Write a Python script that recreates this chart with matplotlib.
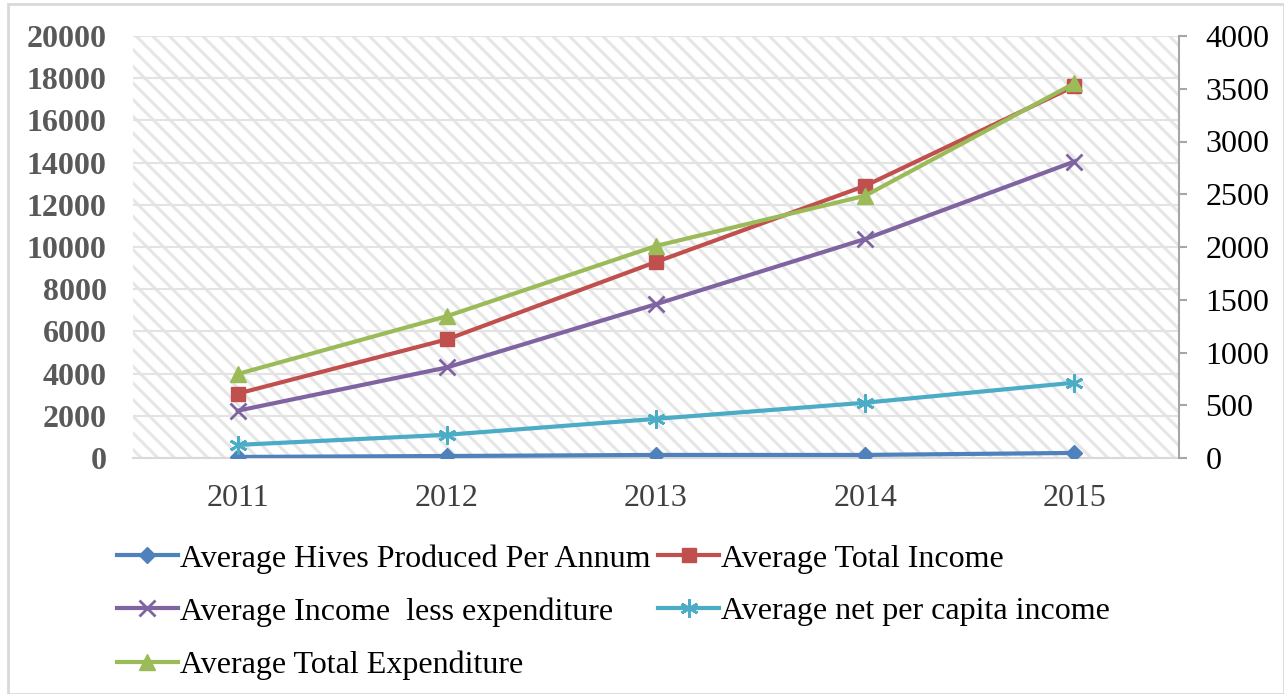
import matplotlib
matplotlib.use("Agg")
import matplotlib.pyplot as plt
from matplotlib.patches import Rectangle

plt.rcParams['font.family'] = ['Liberation Serif', 'DejaVu Serif']
plt.rcParams['hatch.linewidth'] = 2.2
plt.rcParams['hatch.color'] = '#e6e6e6'

years = ['2011', '2012', '2013', '2014', '2015']

# secondary-axis series
hives_per_annum = [10, 19, 29, 29, 48]
net_per_capita_income = [124, 220, 371, 524, 714]

# primary-axis series
total_income = [3050, 5620, 9290, 12900, 17620]
income_less_expenditure = [2240, 4290, 7290, 10380, 14050]
total_expenditure = [3980, 6720, 10050, 12430, 17760]

left_ticks = list(range(0, 20001, 2000))
right_ticks = list(range(0, 4001, 500))

C_BLUE = '#4F81BD'
C_RED = '#C0504D'
C_PURPLE = '#8064A2'
C_CYAN = '#4BACC6'
C_GREEN = '#9BBB59'

FS = 23

fig = plt.figure(figsize=(12.84, 6.94), dpi=100)
ax = fig.add_axes([133/1284, 1-458/694, (1179-133)/1284, (458-36)/694])
ax2 = ax.twinx()

x = list(range(len(years)))

# hatched plot-area background
ax.patch.set_facecolor('white')
bg = Rectangle((0, 0), 1, 1, transform=ax.transAxes, facecolor='white',
               edgecolor='#e6e6e6', hatch='\\\\', linewidth=0, zorder=0)
ax.add_patch(bg)

lw = 3.0
l_inc, = ax.plot(x, total_income, color=C_RED, lw=lw, marker='s', ms=10,
                 label='Average Total Income', zorder=3)
l_less, = ax.plot(x, income_less_expenditure, color=C_PURPLE, lw=lw, marker='x',
                  ms=11, mew=2, label='Average Income  less expenditure', zorder=3)
l_exp, = ax.plot(x, total_expenditure, color=C_GREEN, lw=lw, marker='^', ms=12,
                 label='Average Total Expenditure', zorder=4)
l_hive, = ax2.plot(x, hives_per_annum, color=C_BLUE, lw=lw, marker='D', ms=8,
                   label='Average Hives Produced Per Annum', zorder=3)
l_cap, = ax2.plot(x, net_per_capita_income, color=C_CYAN, lw=lw, marker=(6, 2, 0),
                  ms=13, mew=2, label='Average net per capita income', zorder=3)

ax.set_xlim(-0.5, len(years) - 0.5)
ax.set_ylim(0, 20000)
ax2.set_ylim(0, 4000)

ax.set_yticks(left_ticks)
ax.set_yticklabels([str(v) for v in left_ticks], fontweight='bold', color='#595959')
ax.tick_params(axis='y', length=0, pad=19, labelsize=FS)
ax.set_xticks(x)
ax.set_xticklabels(years, color='#404040')
ax.tick_params(axis='x', length=0, pad=19, labelsize=FS)
ax.grid(axis='y', color='#e3e3e3', lw=1.5, zorder=1)
ax.set_axisbelow(True)

ax2.set_yticks(right_ticks)
ax2.set_yticklabels([str(v) for v in right_ticks], color='black')
ax2.tick_params(axis='y', length=6, width=1.5, color='#a6a6a6', pad=13, labelsize=FS)

for s in ['top', 'left', 'right']:
    ax.spines[s].set_visible(False)
ax.spines['bottom'].set_color('#d9d9d9')
ax.spines['bottom'].set_linewidth(1.5)
for s in ['top', 'left', 'bottom']:
    ax2.spines[s].set_visible(False)
ax2.spines['right'].set_color('#a6a6a6')
ax2.spines['right'].set_linewidth(1.5)

handles = [l_hive, l_less, l_exp, l_inc, l_cap]
fig.legend(handles=handles, labels=[h.get_label() for h in handles], ncol=2,
           loc='upper left', bbox_to_anchor=(117/1284, 1-544/694), frameon=False,
           fontsize=FS, handlelength=1.9, handletextpad=0.07, columnspacing=0.25,
           labelspacing=0.74, borderaxespad=0, borderpad=0)

fig.patches.append(Rectangle((8/1284, 0), 1-8/1284, 1-4/694, transform=fig.transFigure,
                             fill=False, edgecolor='#d9d9d9', lw=2))

fig.savefig('out.png', dpi=100)
